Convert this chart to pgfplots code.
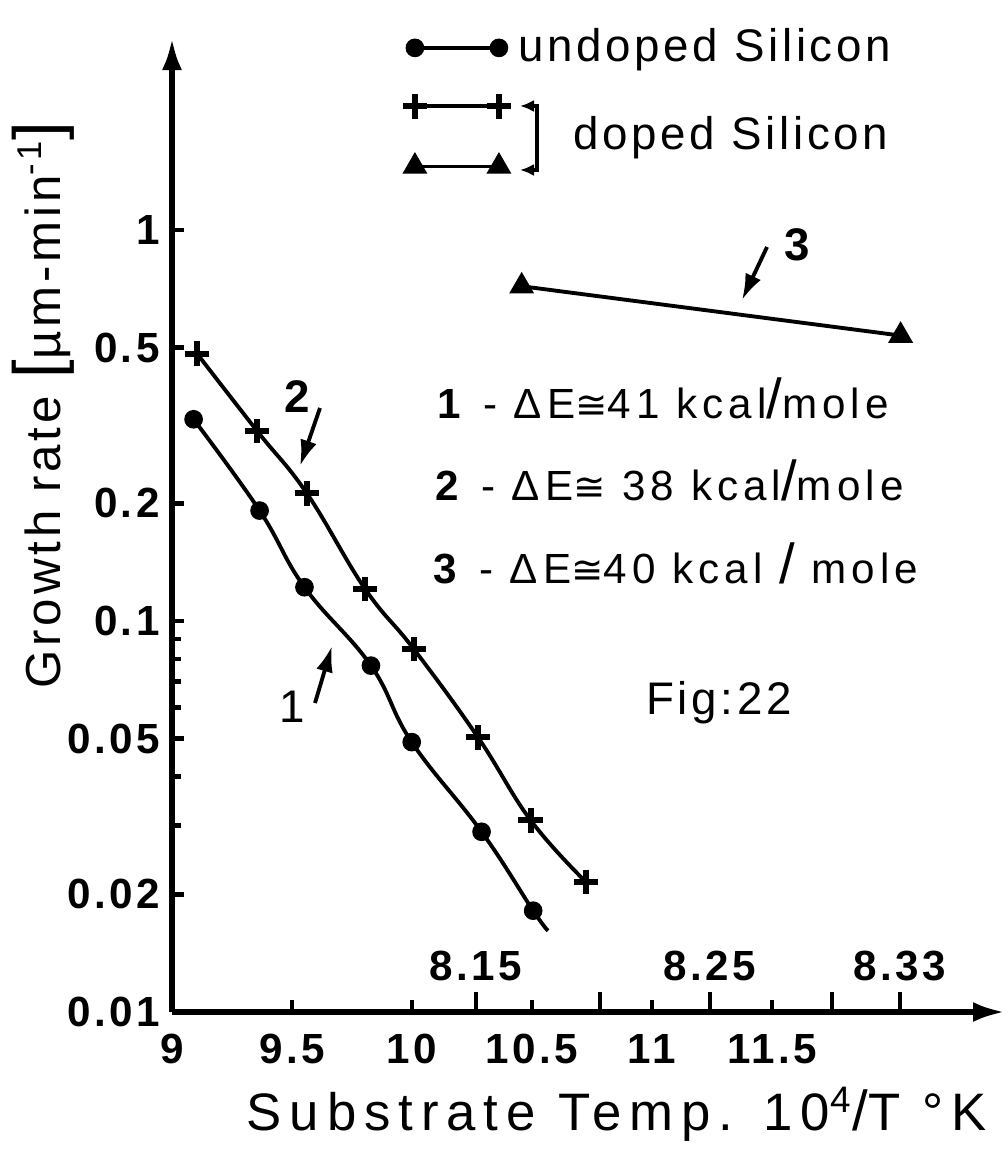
\documentclass[border=0pt]{standalone}
\usepackage{fontspec}
\setmainfont{Liberation Sans}
\newfontfamily\spaced[LetterSpace=8]{Liberation Sans}
\newfontfamily\spacedB[LetterSpace=12]{Liberation Sans}
\newfontfamily\wide[LetterSpace=15]{Liberation Sans}
\newfontfamily\dv{DejaVu Sans}
\usepackage{pgfplots}
\usepackage{pgfplotstable}
\pgfplotsset{compat=1.18}
\usetikzlibrary{arrows.meta}

\pgfplotstableread{
x y
9.090 0.328
9.365 0.1916
9.552 0.122
9.829 0.0769
9.999 0.049
10.290 0.0289
10.505 0.01816
10.567 0.01614
}\undoped
\pgfplotstableread{
x y
9.104 0.483
9.355 0.306
9.562 0.212
9.805 0.1207
10.008 0.0847
10.275 0.0504
10.495 0.0309
10.725 0.0215
}\dopedA
\pgfplotstableread{
x y
10.457 0.718
12.036 0.537
}\dopedB

\newcommand\bigslash{{\fontsize{16}{16}\selectfont/}}
\newcommand\cg{{\dv\fontsize{11}{11}\selectfont ≅}}

\begin{document}
\begin{tikzpicture}
\path[use as bounding box] (-17.2mm,-15.1mm) rectangle (83.6mm,101.2mm);
\begin{axis}[
  at={(0,0)}, anchor=south west,
  scale only axis, width=83.3mm, height=97.4mm,
  xmin=9, xmax=12.471,
  ymode=log, ymin=0.01, ymax=3.097,
  axis lines=left,
  axis line style={line width=1.6pt},
  x axis line style={-{Latex[length=3.2mm,width=2mm]}},
  y axis line style={-{Latex[length=3.2mm,width=2mm]}},
  tick align=inside,
  major tick length=1.2mm, minor tick length=0.9mm,
  tick style={line width=1.3pt, black},
  xtick={9,9.5,10,10.5,11,11.5},
  xticklabels={9,9.5,10,10.5,11,11.5},
  extra x ticks={10.267,10.783,11.242,11.75,12.033},
  extra x tick labels={8.15,{},8.25,{},8.33},
  extra x tick style={major tick length=2mm, tick label style={anchor=south, yshift=2.9mm}},
  ytick={0.01,0.02,0.05,0.1,0.2,0.5,1},
  yticklabels={0.01,0.02,0.05,0.1,0.2,0.5,1},
  minor ytick={0.03,0.04,0.06,0.07,0.08,0.09},
  /pgf/number format/assume math mode=true,
  ticklabel style={font=\spaced\bfseries\fontsize{12}{14}\selectfont},
  xticklabel style={yshift=-1mm},
  clip=false,
  legend style={at={(axis description cs:0.276,1.0175)}, anchor=north west,
    draw=none, fill=none, inner sep=0pt, row sep=0.4mm,
    font=\spaced\fontsize{13}{15}\selectfont,
    /tikz/every even column/.append style={column sep=1.5mm}},
  legend cell align=left,
  legend image code/.code={\draw[#1] plot coordinates {(0mm,0mm) (8.4mm,0mm)};},
]
\addplot[black, line width=1.1pt, smooth, tension=0.7, mark=*, mark size=2.1pt,
  mark indices={1,2,3,4,5,6,7}] table[x=x,y=y] {\undoped};
\addlegendentry{undoped Silicon}
\addplot[black, line width=1.1pt, smooth, tension=0.7, mark=+, mark size=3.5pt,
  mark options={line width=1.7pt}] table[x=x,y=y] {\dopedA};
\addlegendentry{\strut}
\addplot[black, line width=1.1pt, mark=triangle*, mark size=3pt] table[x=x,y=y] {\dopedB};
\addlegendentry{\strut}
\end{axis}
\begin{scope}[x=0.1mm, y=-0.1mm, shift={(-17.2mm,101.2mm)}]
  \tikzset{ann/.style={line width=1.1pt, -{Latex[length=2.6mm,width=1.7mm]}}}
  \draw[ann] (320,408) -- (300,466);
  \node[font=\bfseries\fontsize{13}{15}\selectfont] at (297,397) {2};
  \draw[ann] (315,703) -- (332,646);
  \node[font=\fontsize{13}{15}\selectfont] at (292,707) {1};
  \draw[ann] (767,247) -- (742,300);
  \node[font=\bfseries\fontsize{13}{15}\selectfont] at (797,245) {3};
  \node[anchor=west, inner sep=0pt, font=\spacedB\fontsize{12}{14}\selectfont] at (437,398)
    {\textbf{1} - ΔE\cg 41 kcal\bigslash mole};
  \node[anchor=west, inner sep=0pt, font=\spacedB\fontsize{12}{14}\selectfont] at (435,480)
    {\textbf{2} - ΔE\cg\ 38 kcal\bigslash mole};
  \node[anchor=west, inner sep=0pt, font=\spacedB\fontsize{12}{14}\selectfont] at (433,563)
    {\textbf{3} - ΔE\cg 40 kcal \bigslash\ mole};
  \node[font=\spaced\fontsize{13}{15}\selectfont] at (719,703) {Fig:22};
  \node[anchor=west, inner sep=0pt, font=\spaced\fontsize{13}{15}\selectfont] at (573,138) {doped Silicon};
  \draw[line width=0.9pt, {Latex[length=1.4mm,width=1.2mm]}-{Latex[length=1.4mm,width=1.2mm]}]
    (520,106) -- (537,106) -- (537,170) -- (520,170);
  \node[font=\wide\fontsize{15}{17}\selectfont] at (617,1114)
    {Substrate Temp. 10\textsuperscript{4}\bigslash T °K};
  \node[rotate=90, font=\spaced\fontsize{14}{16}\selectfont] at (43,405)
    {Growth rate {\fontsize{19}{19}\selectfont[}µm-min\textsuperscript{-1}{\fontsize{19}{19}\selectfont]}};
\end{scope}
\end{tikzpicture}
\end{document}
